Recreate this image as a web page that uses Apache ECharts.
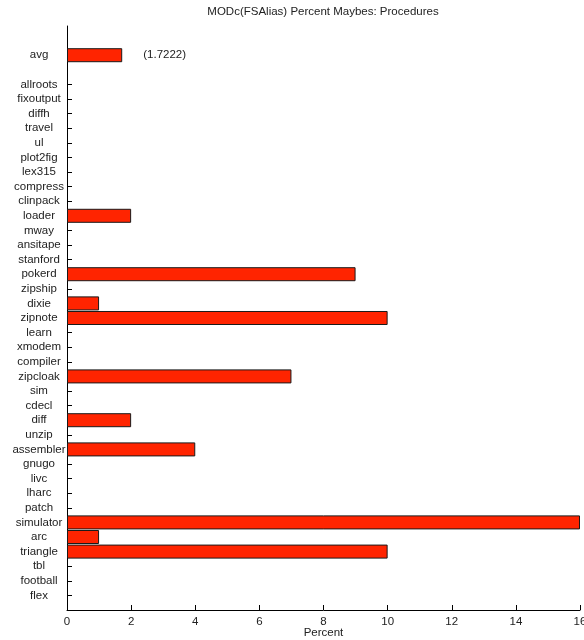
<!DOCTYPE html>
<html>
<head>
<meta charset="utf-8">
<script src="https://cdn.jsdelivr.net/npm/echarts@6/dist/echarts.min.js"></script>
<style>
  html, body { margin: 0; padding: 0; background: #fff; }
  #chart { width: 584px; height: 640px; }
</style>
</head>
<body>
<div id="chart"></div>
<script>
// Procedures, listed top to bottom
const procedures = [
  'allroots', 'fixoutput', 'diffh', 'travel', 'ul', 'plot2fig', 'lex315',
  'compress', 'clinpack', 'loader', 'mway', 'ansitape', 'stanford', 'pokerd',
  'zipship', 'dixie', 'zipnote', 'learn', 'xmodem', 'compiler', 'zipcloak',
  'sim', 'cdecl', 'diff', 'unzip', 'assembler', 'gnugo', 'livc', 'lharc',
  'patch', 'simulator', 'arc', 'triangle', 'tbl', 'football', 'flex'
];
// Percent of maybe answers per procedure
const percentMaybes = [
  0, 0, 0, 0, 0, 0, 0,
  0, 0, 2, 0, 0, 0, 9,
  0, 1, 10, 0, 0, 0, 7,
  0, 0, 2, 0, 4, 0, 0, 0,
  0, 16, 1, 10, 0, 0, 0
];
const avgLabel = 'avg';
const avgValue = 1.7222;
const xTicks = { min: 0, max: 16, step: 2 };

// Slot layout: two empty slots on top, avg, a spacer, the procedures, one empty slot below
const categories = ['', '', avgLabel, ''].concat(procedures, ['']);
// zero-length bars get no outline so the axis line stays clean
const procItems = percentMaybes.map(v => v === 0 ? { value: v, itemStyle: { borderWidth: 0 } } : v);
const values = [null, null, {
  value: avgValue,
  label: {
    show: true,
    position: 'right',
    distance: 21,
    formatter: p => '(' + p.value.toFixed(4) + ')'
  }
}, null].concat(procItems, [null]);

const font = "'Liberation Sans', Arial, Helvetica, sans-serif";
const ink = '#222';

const chart = echarts.init(document.getElementById('chart'), null, { renderer: 'canvas' });
chart.setOption({
  animation: false,
  backgroundColor: '#fff',
  title: {
    text: 'MODc(FSAlias) Percent Maybes: Procedures',
    left: 323,
    top: 6,
    padding: 0,
    textAlign: 'center',
    textStyle: { fontFamily: font, fontSize: 11.5, fontWeight: 'normal', color: ink }
  },
  grid: { left: 67, right: 4, top: 26, bottom: 30, containLabel: false, outerBoundsMode: 'none' },
  xAxis: {
    type: 'value',
    min: xTicks.min,
    max: xTicks.max,
    interval: xTicks.step,
    name: 'Percent',
    nameLocation: 'middle',
    nameGap: 17,
    nameMoveOverlap: false,
    nameTextStyle: { fontFamily: font, fontSize: 11.5, color: ink, verticalAlign: 'top' },
    axisLine: { show: true, lineStyle: { color: '#000', width: 1 } },
    axisTick: { show: true, inside: true, length: 5, lineStyle: { color: '#000' } },
    axisLabel: { fontFamily: font, fontSize: 11.5, color: ink, margin: 6 },
    splitLine: { show: false }
  },
  yAxis: {
    type: 'category',
    data: categories,
    inverse: true,
    boundaryGap: false,
    axisLine: { show: true, lineStyle: { color: '#000', width: 1 } },
    axisTick: {
      show: true, inside: true, length: 5,
      interval: (i, v) => v !== '',
      lineStyle: { color: '#000' }
    },
    axisLabel: {
      interval: (i, v) => v !== '',
      align: 'center',
      margin: 28,
      fontFamily: font, fontSize: 11.5, color: ink
    },
    splitLine: { show: false }
  },
  series: [{
    type: 'bar',
    data: values,
    barWidth: '96%',
    itemStyle: { color: '#ff2400', borderColor: '#1a1a1a', borderWidth: 1 },
    label: { show: false, fontFamily: font, fontSize: 11.5, color: ink }
  }]
});
</script>
</body>
</html>
